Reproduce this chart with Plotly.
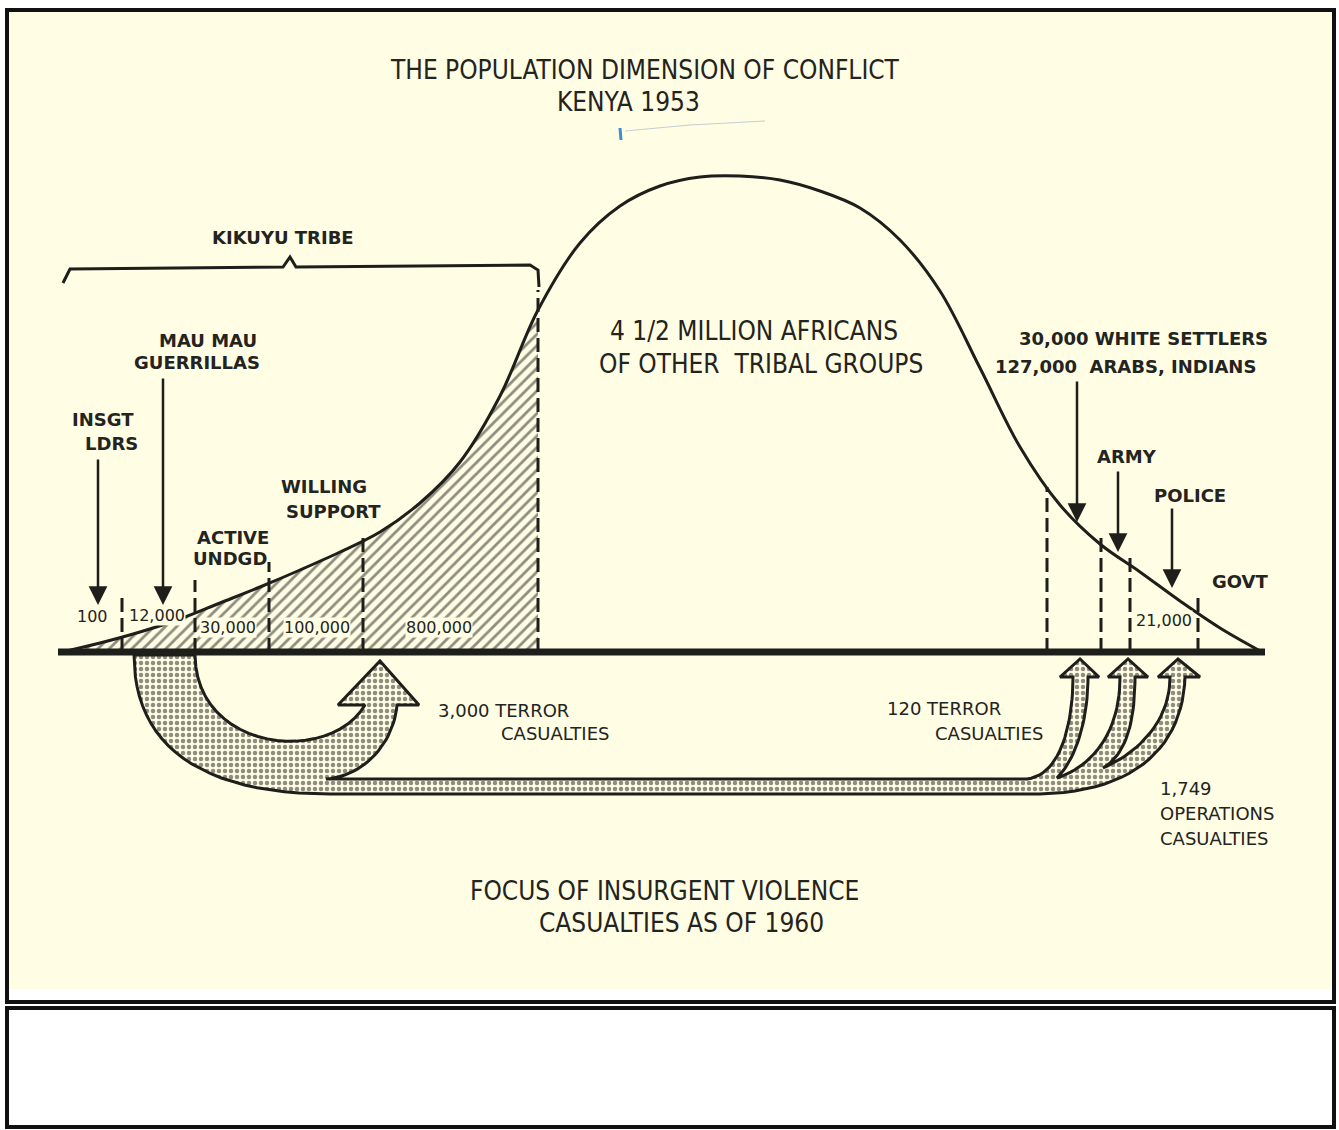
import plotly.graph_objects as go

W, H = 1339, 1130
BASE = 652  # pixel row of the population baseline

# ---------------- data ----------------
# population profile: position along the spectrum and height above baseline
curve_x = [62, 100, 140, 180, 220, 260, 300, 340, 380, 420,
           460, 500, 538, 580, 620, 660, 700, 740, 780, 820,
           860, 900, 940, 980, 1020, 1060, 1100, 1140, 1180, 1220, 1262]
curve_h = [0, 9, 20, 33, 49, 65, 82, 100, 120, 149,
           190, 256, 342, 409, 446, 466, 475, 476, 472, 461,
           444, 412, 361, 284, 205, 147, 108, 80, 51, 24, 0]
KIKUYU_END = 538  # last profile point belonging to the Kikuyu tribe

# segment dividers (x position, top height)
left_div_x = [122, 195, 269, 363, 538]
left_div_top = [54, 72, 90, 114, 362]
right_div_x = [1047, 1101, 1130, 1198]
right_div_top = [165, 119, 94, 57]

segment_labels = ["100", "12,000", "30,000", "100,000", "800,000"]
govt_label = "21,000"

BG = "#FFFDE4"
INK = "#1e1e1a"


def Y(py):
    return BASE - py


fig = go.Figure()

# ---------------- hatched Kikuyu area ----------------
k = curve_x.index(KIKUYU_END) + 1
fig.add_trace(go.Scatter(
    x=curve_x[:k], y=curve_h[:k], mode="lines", line=dict(width=0, shape="spline"),
    fill="tozeroy", fillcolor="rgba(0,0,0,0)",
    fillpattern=dict(shape="/", size=8, solidity=0.35, fgcolor=INK),
    hoverinfo="skip"))

# ---------------- dotted casualty arrows ----------------
def bez(p0, p1, p2, p3, n=24):
    pts = []
    for i in range(n + 1):
        t = i / n
        a = (1 - t) ** 3; b = 3 * (1 - t) ** 2 * t; c = 3 * (1 - t) * t ** 2; d = t ** 3
        pts.append((a * p0[0] + b * p1[0] + c * p2[0] + d * p3[0],
                    a * p0[1] + b * p1[1] + c * p2[1] + d * p3[1]))
    return pts

top = 655
poly = [(134, top), (195, top)]
poly += bez((195, top), (196, 752), (330, 765), (365, 705))
poly += [(338, 705), (380, 661), (419, 705), (397, 705)]
poly += bez((397, 705), (394, 742), (365, 776), (326, 779))
poly += [(1027, 779)]
poly += bez((1027, 779), (1062, 775), (1073, 720), (1073, 677))
poly += [(1060, 677), (1080, 659), (1099, 677), (1088, 677)]
poly += bez((1088, 677), (1088, 722), (1075, 760), (1057, 778))
poly += bez((1057, 778), (1095, 765), (1120, 730), (1120, 677))
poly += [(1108, 677), (1128, 659), (1148, 677), (1135, 677)]
poly += bez((1135, 677), (1135, 725), (1125, 755), (1103, 768))
poly += bez((1103, 768), (1140, 752), (1170, 720), (1170, 677))
poly += [(1158, 677), (1178, 659), (1200, 677), (1185, 677)]
poly += bez((1185, 677), (1183, 742), (1140, 792), (1040, 794))
poly += [(330, 794)]
poly += bez((330, 794), (200, 794), (134, 745), (134, top))
fig.add_trace(go.Scatter(
    x=[p[0] for p in poly], y=[Y(p[1]) for p in poly], mode="lines",
    line=dict(color=INK, width=3), fill="toself", fillcolor="rgba(0,0,0,0)",
    fillpattern=dict(shape=".", size=6, solidity=0.45, fgcolor=INK),
    hoverinfo="skip"))

# ---------------- profile curve ----------------
fig.add_trace(go.Scatter(
    x=curve_x, y=curve_h, mode="lines",
    line=dict(color=INK, width=3, shape="spline"), hoverinfo="skip"))

# ---------------- dividers ----------------
for xv, tv in zip(left_div_x + right_div_x, left_div_top + right_div_top):
    fig.add_trace(go.Scatter(
        x=[xv, xv], y=[0, tv], mode="lines",
        line=dict(color=INK, width=3, dash="14px,6px"), hoverinfo="skip"))

# ---------------- baseline ----------------
fig.add_trace(go.Scatter(
    x=[curve_x[0] - 4, curve_x[-1] + 3], y=[0, 0], mode="lines",
    line=dict(color=INK, width=7), hoverinfo="skip"))

# ---------------- Kikuyu brace ----------------
brace = [(63, 283), (70, 269), (283, 267), (290, 257), (296, 267), (530, 265), (538, 270), (539, 287)]
fig.add_trace(go.Scatter(
    x=[p[0] for p in brace], y=[Y(p[1]) for p in brace], mode="lines",
    line=dict(color=INK, width=3), hoverinfo="skip"))

# pen mark from scan
fig.add_trace(go.Scatter(x=[625, 690, 765], y=[Y(131), Y(125), Y(121)], mode="lines",
                         line=dict(color="rgba(120,150,190,0.45)", width=1), hoverinfo="skip"))
fig.add_trace(go.Scatter(x=[620, 621], y=[Y(128), Y(140)], mode="lines",
                         line=dict(color="#3a8fd0", width=3), hoverinfo="skip"))

# ---------------- annotations ----------------
ann = []
TITLE_FONT = "Liberation Sans Narrow, DejaVu Sans Condensed, Arial Narrow, sans-serif"
LAB_FONT = "DejaVu Sans, Verdana, sans-serif"
TXT = "#232320"


def txt(s, x, py, size=18, family=LAB_FONT, anchor="center", bg=None, weight="bold"):
    d = dict(text=s, x=x, y=Y(py), xref="x", yref="y", showarrow=False,
             xanchor=anchor, yanchor="middle",
             font=dict(family=family, size=size, color=TXT, weight=weight))
    if bg:
        d.update(bgcolor=bg, borderpad=0)
    ann.append(d)


N = "normal"
txt("THE POPULATION DIMENSION OF CONFLICT", 645, 70, 26, TITLE_FONT, weight=N)
txt("KENYA 1953", 628, 102, 26, TITLE_FONT, weight=N)
txt("4 1/2 MILLION AFRICANS", 754, 331, 26, TITLE_FONT, weight=N)
txt("OF OTHER  TRIBAL GROUPS", 761, 364, 26, TITLE_FONT, weight=N)
txt("FOCUS OF INSURGENT VIOLENCE", 664, 891, 26, TITLE_FONT, weight=N)
txt("CASUALTIES AS OF 1960", 681, 923, 26, TITLE_FONT, weight=N)

txt("KIKUYU TRIBE", 283, 237)
txt("MAU MAU", 208, 340)
txt("GUERRILLAS", 197, 362)
txt("INSGT", 103, 419)
txt("LDRS", 111, 443)
txt("WILLING", 324, 486)
txt("SUPPORT", 333, 511)
txt("ACTIVE", 233, 537)
txt("UNDGD", 230, 558)
txt("30,000 WHITE SETTLERS", 1143, 338)
txt("127,000  ARABS, INDIANS", 1125, 366)
txt("ARMY", 1127, 456)
txt("POLICE", 1190, 495)
txt("GOVT", 1240, 581)
txt("3,000 TERROR", 503, 710, weight=N)
txt("CASUALTIES", 555, 733, weight=N)
txt("120 TERROR", 944, 708, weight=N)
txt("CASUALTIES", 989, 733, weight=N)
txt("1,749", 1158, 788, anchor="left", weight=N)
txt("OPERATIONS", 1158, 813, anchor="left", weight=N)
txt("CASUALTIES", 1158, 838, anchor="left", weight=N)

seg_pos = [(92, 616), (157, 615), (228, 627), (317, 627), (439, 627)]
for s, (xp, yp) in zip(segment_labels, seg_pos):
    txt(s, xp, yp, 16, bg=BG, weight=N)
txt(govt_label, 1164, 620, 16, bg=BG, weight=N)

# pointer arrows
for xv, y0, y1 in [(98, 458, 605), (163, 377, 605), (1077, 380, 522),
                   (1118, 470, 552), (1172, 507, 588)]:
    ann.append(dict(x=xv, y=Y(y1), ax=xv, ay=Y(y0), xref="x", yref="y", axref="x", ayref="y",
                    showarrow=True, arrowhead=2, arrowsize=1.5, arrowwidth=2.5,
                    arrowcolor=INK, text=""))

# ---------------- frame ----------------
shapes = [
    dict(type="rect", xref="x", yref="y", x0=9, x1=1331, y0=Y(11), y1=Y(989),
         fillcolor=BG, line=dict(width=0), layer="below"),
    dict(type="rect", xref="x", yref="y", x0=7, x1=1334, y0=Y(10), y1=Y(1002),
         line=dict(color="#111", width=4), layer="above"),
    dict(type="rect", xref="x", yref="y", x0=7, x1=1334, y0=Y(1008), y1=Y(1127),
         line=dict(color="#111", width=4), layer="above"),
]

fig.update_layout(
    width=W, height=H, margin=dict(l=0, r=0, t=0, b=0),
    paper_bgcolor="white", plot_bgcolor="white", showlegend=False,
    xaxis=dict(range=[0, W], visible=False, fixedrange=True),
    yaxis=dict(range=[Y(H), Y(0)], visible=False, fixedrange=True),
    annotations=ann, shapes=shapes,
)

fig.write_html("out.html", config={"displayModeBar": False},
               post_script="document.body.style.margin='0';document.body.style.overflow='hidden';")
